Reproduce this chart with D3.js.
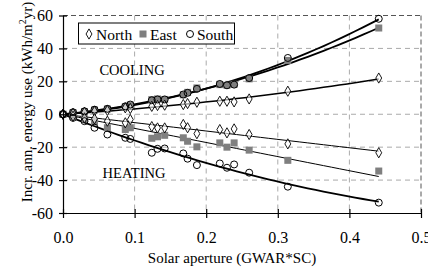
<!DOCTYPE html>
<html>
<head>
<meta charset="utf-8">
<script src="https://d3js.org/d3.v7.min.js"></script>
<style>
  body { margin: 0; background: #fff; }
  svg { font-family: "Liberation Serif", "Times New Roman", serif; }
</style>
</head>
<body>
<svg width="428" height="269"></svg>
<script>
// solar aperture values shared by all series
var aperture = [0, 0.014, 0.03, 0.044, 0.062, 0.087, 0.094, 0.124, 0.132, 0.142,
                0.168, 0.174, 0.187, 0.219, 0.229, 0.239, 0.26, 0.314, 0.441];

var northCool = [0, 0.6, 1.2, 1.8, 2.3, 3.9, 3.5, 4.8, 5.3, 5.5, 5.9, 6.5, 7.3, 7.9, 7.9, 7.5, 9.3, 14, 22];
var eastCool  = [0, 1.0, 1.6, 2.6, 3.2, 4.5, 5.6, 8.9, 9.3, 9.0, 11.8, 13.3, 16, 18, 17.6, 18.2, 21.5, 32.7, 52.4];
var southCool = [0, 1.2, 1.8, 2.8, 3.3, 4.8, 5.9, 8.5, 9, 9, 12, 13, 15.4, 18.4, 17.6, 18, 22, 34.2, 58];

var northHeat = [0, -1.2, -2.2, -2.8, -4.2, -5.2, -3.2, -7.5, -8.3, -8.3, -6.2, -8.2, -11.8, -9.3, -11.3, -8.9, -12.3, -18, -23.4];
var eastHeat  = [0, -1.4, -2.8, -4.5, -8.2, -9.3, -8.2, -14.6, -13.7, -12.8, -14.3, -16.4, -19.8, -17.4, -20, -17.4, -21.8, -28, -34.5];
var southHeat = [0, -2.2, -4.2, -8.2, -12.3, -14.3, -15, -23.4, -21, -20.8, -23.8, -27, -30.9, -29.9, -32.5, -30.5, -35.5, -44, -53.7];

var xTicks = [0, 0.1, 0.2, 0.3, 0.4, 0.5];
var yTicks = [-60, -40, -20, 0, 20, 40, 60];
var legendNames = ["North", "East", "South"];

var svg = d3.select("svg");
var pl = 63, pr = 421, pt = 15.5, pb = 213;

var x = d3.scaleLinear().domain([0, 0.5]).range([pl, pr]);
var y = d3.scaleLinear().domain([-60, 60]).range([pb, pt]);

// grid
var grid = svg.append("g").attr("stroke", "#aaa").attr("stroke-dasharray", "5,4").attr("stroke-width", 1);
grid.selectAll(".vx").data(xTicks.slice(1, 5)).enter().append("line")
  .attr("x1", d => x(d)).attr("x2", d => x(d)).attr("y1", pt).attr("y2", pb);
grid.selectAll(".hy").data(yTicks.slice(1, 6)).enter().append("line")
  .attr("x1", pl).attr("x2", pr).attr("y1", d => y(d)).attr("y2", d => y(d));
// top and right frame
svg.append("line").attr("x1", pl).attr("x2", pr).attr("y1", pt).attr("y2", pt)
  .attr("stroke", "#555").attr("stroke-dasharray", "5,3");
svg.append("line").attr("x1", pr).attr("x2", pr).attr("y1", pt).attr("y2", pb)
  .attr("stroke", "#555").attr("stroke-dasharray", "5,3");

// fitted trend lines through the origin
function fit(ys, quad) {
  var s11 = 0, s12 = 0, s22 = 0, t1 = 0, t2 = 0;
  aperture.forEach(function(xv, i) {
    s11 += xv * xv; s12 += xv * xv * xv; s22 += xv * xv * xv * xv;
    t1 += xv * ys[i]; t2 += xv * xv * ys[i];
  });
  if (!quad) { var k = t1 / s11; return function(v) { return k * v; }; }
  var det = s11 * s22 - s12 * s12;
  var a = (t1 * s22 - t2 * s12) / det, b = (s11 * t2 - s12 * t1) / det;
  return function(v) { return a * v + b * v * v; };
}

var xmax = d3.max(aperture);
var samples = d3.range(0, 41).map(i => xmax * i / 40);
var line = d3.line().x(d => x(d[0])).y(d => y(d[1]));
var trends = [
  { ys: southCool, quad: true, w: 1.8 },
  { ys: eastCool, quad: true, w: 1.8 },
  { ys: northCool, quad: true, w: 1.5 },
  { ys: northHeat, quad: false, w: 1 },
  { ys: eastHeat, quad: false, w: 1 },
  { ys: southHeat, quad: true, w: 1.8 }
];
trends.forEach(function(t) {
  var f = fit(t.ys, t.quad);
  svg.append("path").datum(samples.map(v => [v, f(v)]))
    .attr("d", line).attr("fill", "none").attr("stroke", "#000").attr("stroke-width", t.w);
});

// markers
var diamond = d3.symbol().type(d3.symbolDiamond).size(30);
function squares(ys) {
  svg.append("g").selectAll("rect").data(ys).enter().append("rect")
    .attr("x", (d, i) => x(aperture[i]) - 3.5).attr("y", d => y(d) - 3.5)
    .attr("width", 7).attr("height", 7).attr("fill", "#7f7f7f");
}
function diamonds(ys) {
  svg.append("g").selectAll("path").data(ys).enter().append("path")
    .attr("d", diamond).attr("transform", (d, i) => "translate(" + x(aperture[i]) + "," + y(d) + ")")
    .attr("fill", "#fff").attr("fill-opacity", 0.6).attr("stroke", "#000").attr("stroke-width", 0.9);
}
function circles(ys) {
  svg.append("g").selectAll("circle").data(ys).enter().append("circle")
    .attr("cx", (d, i) => x(aperture[i])).attr("cy", d => y(d)).attr("r", 3.5)
    .attr("fill", "none").attr("stroke", "#000").attr("stroke-width", 1);
}
squares(eastCool); squares(eastHeat);
diamonds(northCool); diamonds(northHeat);
circles(southCool); circles(southHeat);

// axes
var xAxis = svg.append("g").attr("transform", "translate(0," + pb + ")")
  .call(d3.axisBottom(x).tickValues(xTicks).tickFormat(d3.format(".1f")).tickSize(5).tickPadding(14).tickSizeOuter(0));
var yAxis = svg.append("g").attr("transform", "translate(" + pl + ",0)")
  .call(d3.axisLeft(y).tickValues(yTicks).tickFormat(d => String(d)).tickSize(4).tickPadding(6).tickSizeOuter(0));
xAxis.selectAll(".tick line").attr("y1", -4);
yAxis.selectAll(".tick line").attr("x1", 4);
[xAxis, yAxis].forEach(function(g) {
  g.selectAll("text").attr("font-size", 16).attr("font-family", "Liberation Serif").attr("fill", "#000");
  g.selectAll("line, path").attr("stroke", "#000").attr("stroke-width", 1.2);
});

// axis titles
svg.append("text").attr("x", (pl + pr) / 2 - 10).attr("y", 263).attr("text-anchor", "middle")
  .attr("font-size", 15).text("Solar aperture (GWAR*SC)");
var yt = svg.append("text").attr("transform", "translate(32," + 102 + ") rotate(-90)")
  .attr("text-anchor", "middle").attr("font-size", 15);
yt.append("tspan").text("Incr. ann. energy use (kWh/m");
yt.append("tspan").attr("font-size", 10).attr("dy", -6).text("2");
yt.append("tspan").attr("dy", 6).text("yr)");

// region labels
svg.append("text").attr("x", 132).attr("y", 75).attr("text-anchor", "middle").attr("font-size", 14.5).text("COOLING");
svg.append("text").attr("x", 134).attr("y", 178).attr("text-anchor", "middle").attr("font-size", 14.5).text("HEATING");

// legend
var lg = svg.append("g");
lg.append("rect").attr("x", 78.5).attr("y", 23).attr("width", 156).attr("height", 21)
  .attr("fill", "#fff").attr("stroke", "#000").attr("stroke-width", 1);
var lx = [89, 143, 190];
lg.append("path").attr("d", diamond).attr("transform", "translate(" + lx[0] + ",34)")
  .attr("fill", "none").attr("stroke", "#000").attr("stroke-width", 0.9);
lg.append("rect").attr("x", lx[1] - 3.5).attr("y", 30.5).attr("width", 7).attr("height", 7).attr("fill", "#7f7f7f");
lg.append("circle").attr("cx", lx[2]).attr("cy", 34).attr("r", 3.5).attr("fill", "none").attr("stroke", "#000");
lg.selectAll(".lt").data(legendNames).enter().append("text")
  .attr("x", (d, i) => lx[i] + 7).attr("y", 39.5).attr("font-size", 15.5).text(d => d);
</script>
</body>
</html>
